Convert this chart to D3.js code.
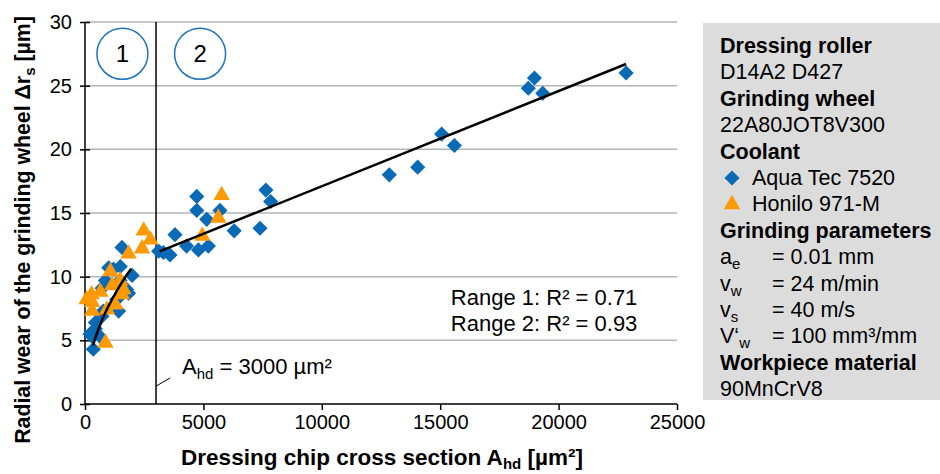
<!DOCTYPE html>
<html>
<head>
<script src="https://d3js.org/d3.v7.min.js"></script>
<style>
  body { margin: 0; background: #fff; }
  svg { font-family: Arial, "Liberation Sans", sans-serif; }
  .axis text { font-size: 20px; fill: #000; }
  .axis path, .axis line { stroke: #000; stroke-width: 1.5; }
</style>
</head>
<body>
<div id="chart"></div>
<script>
// ---- data ----
const aquaX = [350, 210, 440, 300, 630, 440, 720, 770, 1420, 1340, 1840, 1760, 720, 860, 1480, 1990, 1000, 1490, 1200, 1560,
               3110, 3310, 3590, 3800, 4290, 4790, 5210, 4720, 4720, 5140, 5700, 6300, 7390, 7640, 7840,
               12850, 14050, 15060, 15600, 18720, 18980, 19330, 22850]
const aquaY = [4.3, 5.5, 5.9, 5.3, 5.3, 6.4, 6.9, 7.3, 7.3, 8.2, 8.7, 9.0, 9.1, 9.7, 9.7, 10.1, 10.7, 10.8, 10.6, 12.3,
               12.0, 11.9, 11.7, 13.3, 12.4, 12.1, 12.4, 16.3, 15.2, 14.5, 15.2, 13.6, 13.8, 16.8, 15.9,
               18.0, 18.6, 21.2, 20.3, 24.8, 25.6, 24.4, 26.0]
const honiloX = [70, 280, 300, 300, 650, 930, 1280, 1150, 1560, 1620, 860, 1070, 1480, 1840, 2410, 2480, 2760, 4950, 5630, 5770]
const honiloY = [8.2, 8.6, 8.0, 7.3, 8.8, 7.4, 7.8, 9.3, 8.6, 9.0, 4.8, 10.4, 9.7, 11.8, 12.2, 13.6, 12.9, 13.2, 14.6, 16.4]

// trend lines: range 1 power fit, range 2 linear fit
const fit1 = {c: 0.28, p: 0.48, from: 340, to: 1950}
const fit2 = {slope: 0.000747, intercept: 9.63, from: 3150, to: 22850}
const rangeLimit = 3000

const xTicks = [0, 5000, 10000, 15000, 20000, 25000]
const yTicks = [0, 5, 10, 15, 20, 25, 30]

const panelLines = [
  {t: 'Dressing roller', bold: true},
  {t: 'D14A2 D427'},
  {t: 'Grinding wheel', bold: true},
  {t: '22A80JOT8V300'},
  {t: 'Coolant', bold: true},
  {t: 'Aqua Tec 7520', marker: 'aqua'},
  {t: 'Honilo 971-M', marker: 'honilo'},
  {t: 'Grinding parameters', bold: true},
  {sym: 'a', sub: 'e', val: '= 0.01 mm'},
  {sym: 'v', sub: 'w', val: '= 24 m/min'},
  {sym: 'v', sub: 's', val: '= 40 m/s'},
  {sym: 'V\u2018', sub: 'w', val: '= 100 mm\u00b3/mm'},
  {t: 'Workpiece material', bold: true},
  {t: '90MnCrV8'}
]

const blue = '#0a6ab6'
const orange = '#fb9a06'

const w = 940, h = 474
const svg = d3.select('#chart').append('svg').attr('width', w).attr('height', h)

const x = d3.scaleLinear().domain([0, 25000]).range([85, 677])
const y = d3.scaleLinear().domain([0, 30]).range([404, 22])

// gridlines
svg.append('g').selectAll('line')
  .data(yTicks.filter(d => d > 0))
  .enter().append('line')
  .attr('x1', x(0)).attr('x2', x(25000))
  .attr('y1', d => y(d)).attr('y2', d => y(d))
  .attr('stroke', '#b4b4b4').attr('stroke-width', 1.5)

// range divider
svg.append('line')
  .attr('x1', x(rangeLimit)).attr('x2', x(rangeLimit))
  .attr('y1', y(0)).attr('y2', y(30))
  .attr('stroke', '#000').attr('stroke-width', 1.5)

// axes
const xAxis = svg.append('g').attr('class', 'axis')
  .attr('transform', 'translate(0,' + y(0) + ')')
  .call(d3.axisBottom(x).tickValues(xTicks).tickSizeInner(6).tickSizeOuter(0).tickPadding(5).tickFormat(d3.format('d')))
xAxis.select('.domain').remove()
xAxis.append('line').attr('x1', x(0)).attr('x2', x(25000)).attr('stroke', '#000').attr('stroke-width', 1.5)

const yAxis = svg.append('g').attr('class', 'axis')
  .attr('transform', 'translate(' + x(0) + ',0)')
  .call(d3.axisLeft(y).tickValues(yTicks).tickSizeInner(5).tickSizeOuter(0).tickPadding(8))
yAxis.selectAll('.tick line').attr('x1', 5)
yAxis.select('.domain').remove()
yAxis.append('line').attr('y1', y(0)).attr('y2', y(30)).attr('stroke', '#000').attr('stroke-width', 1.5)

// markers
const diamond = d3.symbol().type(d3.symbolSquare).size(115)
const triangle = d3.symbol().type(d3.symbolTriangle).size(118)

svg.append('g').selectAll('path')
  .data(d3.zip(aquaX, aquaY))
  .enter().append('path')
  .attr('d', diamond)
  .attr('transform', d => 'translate(' + x(d[0]) + ',' + y(d[1]) + ') rotate(45)')
  .attr('fill', blue)

svg.append('g').selectAll('path')
  .data(d3.zip(honiloX, honiloY))
  .enter().append('path')
  .attr('d', triangle)
  .attr('transform', d => 'translate(' + x(d[0]) + ',' + y(d[1]) + ')')
  .attr('fill', orange)

// trend lines
const line = d3.line().x(d => x(d[0])).y(d => y(d[1]))
const pts1 = d3.range(0, 41).map(i => {
  const v = fit1.from + (fit1.to - fit1.from) * i / 40
  return [v, fit1.c * Math.pow(v, fit1.p)]
})
svg.append('path').datum(pts1).attr('d', line)
  .attr('fill', 'none').attr('stroke', '#000').attr('stroke-width', 2.5)
svg.append('path')
  .datum([fit2.from, fit2.to].map(v => [v, fit2.slope * v + fit2.intercept]))
  .attr('d', line)
  .attr('fill', 'none').attr('stroke', '#000').attr('stroke-width', 2.5)

// range badges
const badges = [{label: '1', x: 1580, y: 27.5}, {label: '2', x: 4860, y: 27.5}]
const badge = svg.append('g').selectAll('g').data(badges).enter().append('g')
  .attr('transform', d => 'translate(' + x(d.x) + ',' + y(d.y) + ')')
badge.append('circle').attr('r', 25.5).attr('fill', '#fff').attr('stroke', '#1a73bd').attr('stroke-width', 1.5)
badge.append('text').attr('text-anchor', 'middle').attr('dy', '0.36em')
  .style('font-size', '24px').text(d => d.label)

// R² notes
const rNotes = ['Range 1: R\u00b2 = 0.71', 'Range 2: R\u00b2 = 0.93']
svg.append('g').selectAll('text').data(rNotes).enter().append('text')
  .attr('x', x(15450)).attr('y', (d, i) => y(7.75) + i * 25.5)
  .style('font-size', '22px').text(d => d)

// A_hd annotation
svg.append('line')
  .attr('x1', x(rangeLimit)).attr('y1', y(1.4))
  .attr('x2', x(3600)).attr('y2', y(2.05))
  .attr('stroke', '#000').attr('stroke-width', 1)
const ann = svg.append('text').attr('x', x(4100)).attr('y', y(2.35)).style('font-size', '22px')
ann.append('tspan').text('A')
ann.append('tspan').attr('dy', 5).style('font-size', '15px').text('hd')
ann.append('tspan').attr('dy', -5).text(' = 3000 \u00b5m\u00b2')

// axis titles
const xt = svg.append('text').attr('x', 382).attr('y', 465).attr('text-anchor', 'middle')
  .style('font-size', '22.5px').style('font-weight', 'bold')
xt.append('tspan').text('Dressing chip cross section A')
xt.append('tspan').attr('dy', 4).style('font-size', '15px').text('hd')
xt.append('tspan').attr('dy', -4).text(' [\u00b5m\u00b2]')

const yt = svg.append('text').attr('transform', 'translate(30,230) rotate(-90)').attr('text-anchor', 'middle')
  .style('font-size', '21.3px').style('font-weight', 'bold')
yt.append('tspan').text('Radial wear of the grinding wheel \u0394r')
yt.append('tspan').attr('dy', 5).style('font-size', '15px').text('s')
yt.append('tspan').attr('dy', -5).text(' [\u00b5m]')

// info panel
const panel = svg.append('g')
panel.append('rect').attr('x', 703).attr('y', 23).attr('width', 237).attr('height', 377).attr('fill', '#dcdcdc')
const rows = panel.selectAll('g.row').data(panelLines).enter().append('g')
  .attr('class', 'row')
  .attr('transform', (d, i) => 'translate(720,' + (53 + i * 26.4) + ')')
rows.each(function (d) {
  const g = d3.select(this)
  if (d.sym) {
    const t = g.append('text').style('font-size', '21.5px')
    t.append('tspan').text(d.sym)
    t.append('tspan').attr('dy', 5).style('font-size', '15px').text(d.sub)
    g.append('text').attr('x', 52).style('font-size', '21.5px').text(d.val)
  } else if (d.marker) {
    g.append('path')
      .attr('d', d.marker === 'aqua' ? diamond : triangle)
      .attr('transform', 'translate(12,-7)' + (d.marker === 'aqua' ? ' rotate(45)' : ''))
      .attr('fill', d.marker === 'aqua' ? blue : orange)
    g.append('text').attr('x', 32).style('font-size', '21.5px').text(d.t)
  } else {
    g.append('text').style('font-size', '21.5px').style('font-weight', d.bold ? 'bold' : 'normal').text(d.t)
  }
})
</script>
</body>
</html>
